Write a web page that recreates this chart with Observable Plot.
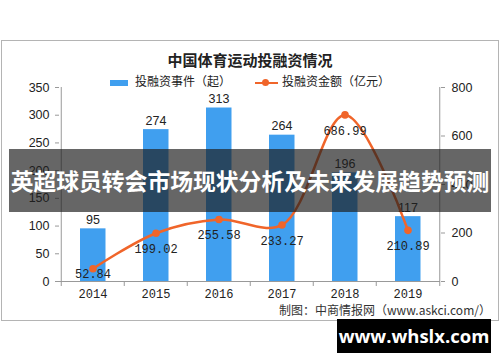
<!DOCTYPE html>
<html><head><meta charset="utf-8">
<script src="https://cdn.jsdelivr.net/npm/d3@7"></script>
<script src="https://cdn.jsdelivr.net/npm/@observablehq/plot@0.6"></script>
<style>
body{margin:0;width:500px;height:362px;overflow:hidden;background:#fff;position:relative;font-family:"Noto Sans CJK SC","Noto Sans",sans-serif;}
#frame{position:absolute;left:1px;top:40px;width:496px;height:279px;border:1px solid #b4b4b4;}
#chart{position:absolute;left:0;top:0;}
.abs{position:absolute;white-space:nowrap;}
#title{left:0;width:500px;top:49px;text-align:center;font-size:15px;font-weight:bold;color:#222;line-height:22px;}
#banner{left:9px;top:149px;width:482px;height:63px;background:rgba(30,30,30,0.68);color:#fff;font-weight:bold;font-size:22.8px;line-height:63px;text-align:center;}
#footer{left:337px;top:319px;width:154px;height:34px;background:#000;color:#fff;font-family:"Open Sans",sans-serif;font-weight:bold;font-size:18.5px;line-height:34px;text-align:center;}
.leg{font-size:12px;color:#222;line-height:16px;}
#caption{left:279px;top:302px;font-size:12px;color:#333;line-height:16px;}
</style></head>
<body>
<div id="frame"></div>
<div id="chart"></div>
<div class="abs" id="title">中国体育运动投融资情况</div>
<div class="abs leg" style="left:110px;top:73px;"><span style="display:inline-block;width:18px;height:6px;background:#409fef;vertical-align:middle;margin-right:7px;"></span><span id="l1"></span></div>
<div class="abs leg" style="left:255px;top:73px;"><span style="display:inline-block;position:relative;width:23px;height:6px;vertical-align:middle;margin-right:4px;"><span style="position:absolute;left:0;top:2px;width:23px;height:2.5px;background:#f0652a;"></span><span style="position:absolute;left:7px;top:-0.5px;width:7px;height:7px;border-radius:50%;background:#f0652a;"></span></span><span id="l2"></span></div>
<div class="abs" id="caption">制图：中商情报网（www.askci.com/）</div>
<div class="abs" id="banner">英超球员转会市场现状分析及未来发展趋势预测</div>
<div class="abs" id="footer">www.whslx.com</div>
<script>
const years = ["2014","2015","2016","2017","2018","2019"];
const events = [95, 274, 313, 264, 196, 117];
const amounts = [52.84, 199.02, 255.58, 233.27, 686.99, 210.89];
const leftTicks = [0, 50, 100, 150, 200, 250, 300, 350];
const rightTicks = [0, 200, 400, 600, 800];
const seriesNames = ["投融资事件（起）", "投融资金额（亿元）"];
document.getElementById("l1").textContent = seriesNames[0];
document.getElementById("l2").textContent = seriesNames[1];

const leftMax = 350, rightMax = 800;
const k = leftMax / rightMax;
const data = years.map((y, i) => ({year: y, events: events[i], amount: amounts[i], ay: amounts[i] * k}));

const blue = "#409fef", orange = "#f0652a";
const mono = "Liberation Mono, DejaVu Sans Mono, monospace";
const half = 31.75;

const chart = Plot.plot({
  width: 500, height: 362,
  marginTop: 87, marginBottom: 81, marginLeft: 59, marginRight: 60,
  style: {background: "transparent", fontFamily: "Liberation Sans, Arial, sans-serif", fontSize: "12px", color: "#222"},
  x: {type: "band", domain: years, padding: 0, label: null, axis: null},
  y: {domain: [0, leftMax], label: null},
  marks: [
    Plot.barY(data, {x: "year", y: "events", fill: blue, insetLeft: 19, insetRight: 18.5}),
    Plot.axisY({anchor: "left", ticks: leftTicks, tickSize: 4, tickPadding: 6, label: null, fontSize: 12.5, stroke: "#999"}),
    Plot.axisY({anchor: "right", ticks: rightTicks.map(d => d * k), tickFormat: d => Math.round(d / k), tickSize: 4, tickPadding: 7, label: null, fontSize: 12.5, stroke: "#999"}),
    Plot.ruleY([0], {stroke: "#999"}),
    Plot.ruleX([years[0]], {x: d => d, dx: -half, y1: 0, y2: leftMax, stroke: "#999"}),
    Plot.ruleX([years[5]], {x: d => d, dx: half, y1: 0, y2: leftMax, stroke: "#999"}),
    Plot.ruleX(years, {x: d => d, dx: -half, y1: 0, y2: -9, stroke: "#999"}),
    Plot.ruleX([years[5]], {x: d => d, dx: half, y1: 0, y2: -9, stroke: "#999"}),
    Plot.text(years, {x: d => d, frameAnchor: "bottom", dy: 16, text: d => d, fontFamily: mono, fontSize: 12, fill: "#222"}),
    Plot.text(data, {x: "year", y: "events", text: d => String(d.events), lineAnchor: "bottom", dy: -5, fontSize: 12.5, fill: "#222"}),
    Plot.line(data, {x: "year", y: "ay", stroke: orange, strokeWidth: 2.5, curve: "catmull-rom"}),
    Plot.dot(data, {x: "year", y: "ay", r: 3.8, fill: orange}),
    Plot.text(data.slice(1), {x: "year", y: "ay", text: d => d.amount.toFixed(2), dy: 16, fontFamily: mono, fontSize: 12, fill: "#222"}),
    Plot.text(data.slice(0, 1), {x: "year", y: "ay", text: d => d.amount.toFixed(2), dy: 5, fontFamily: mono, fontSize: 12, fill: "#222"})
  ]
});
document.getElementById("chart").appendChild(chart);
</script>
</body></html>
